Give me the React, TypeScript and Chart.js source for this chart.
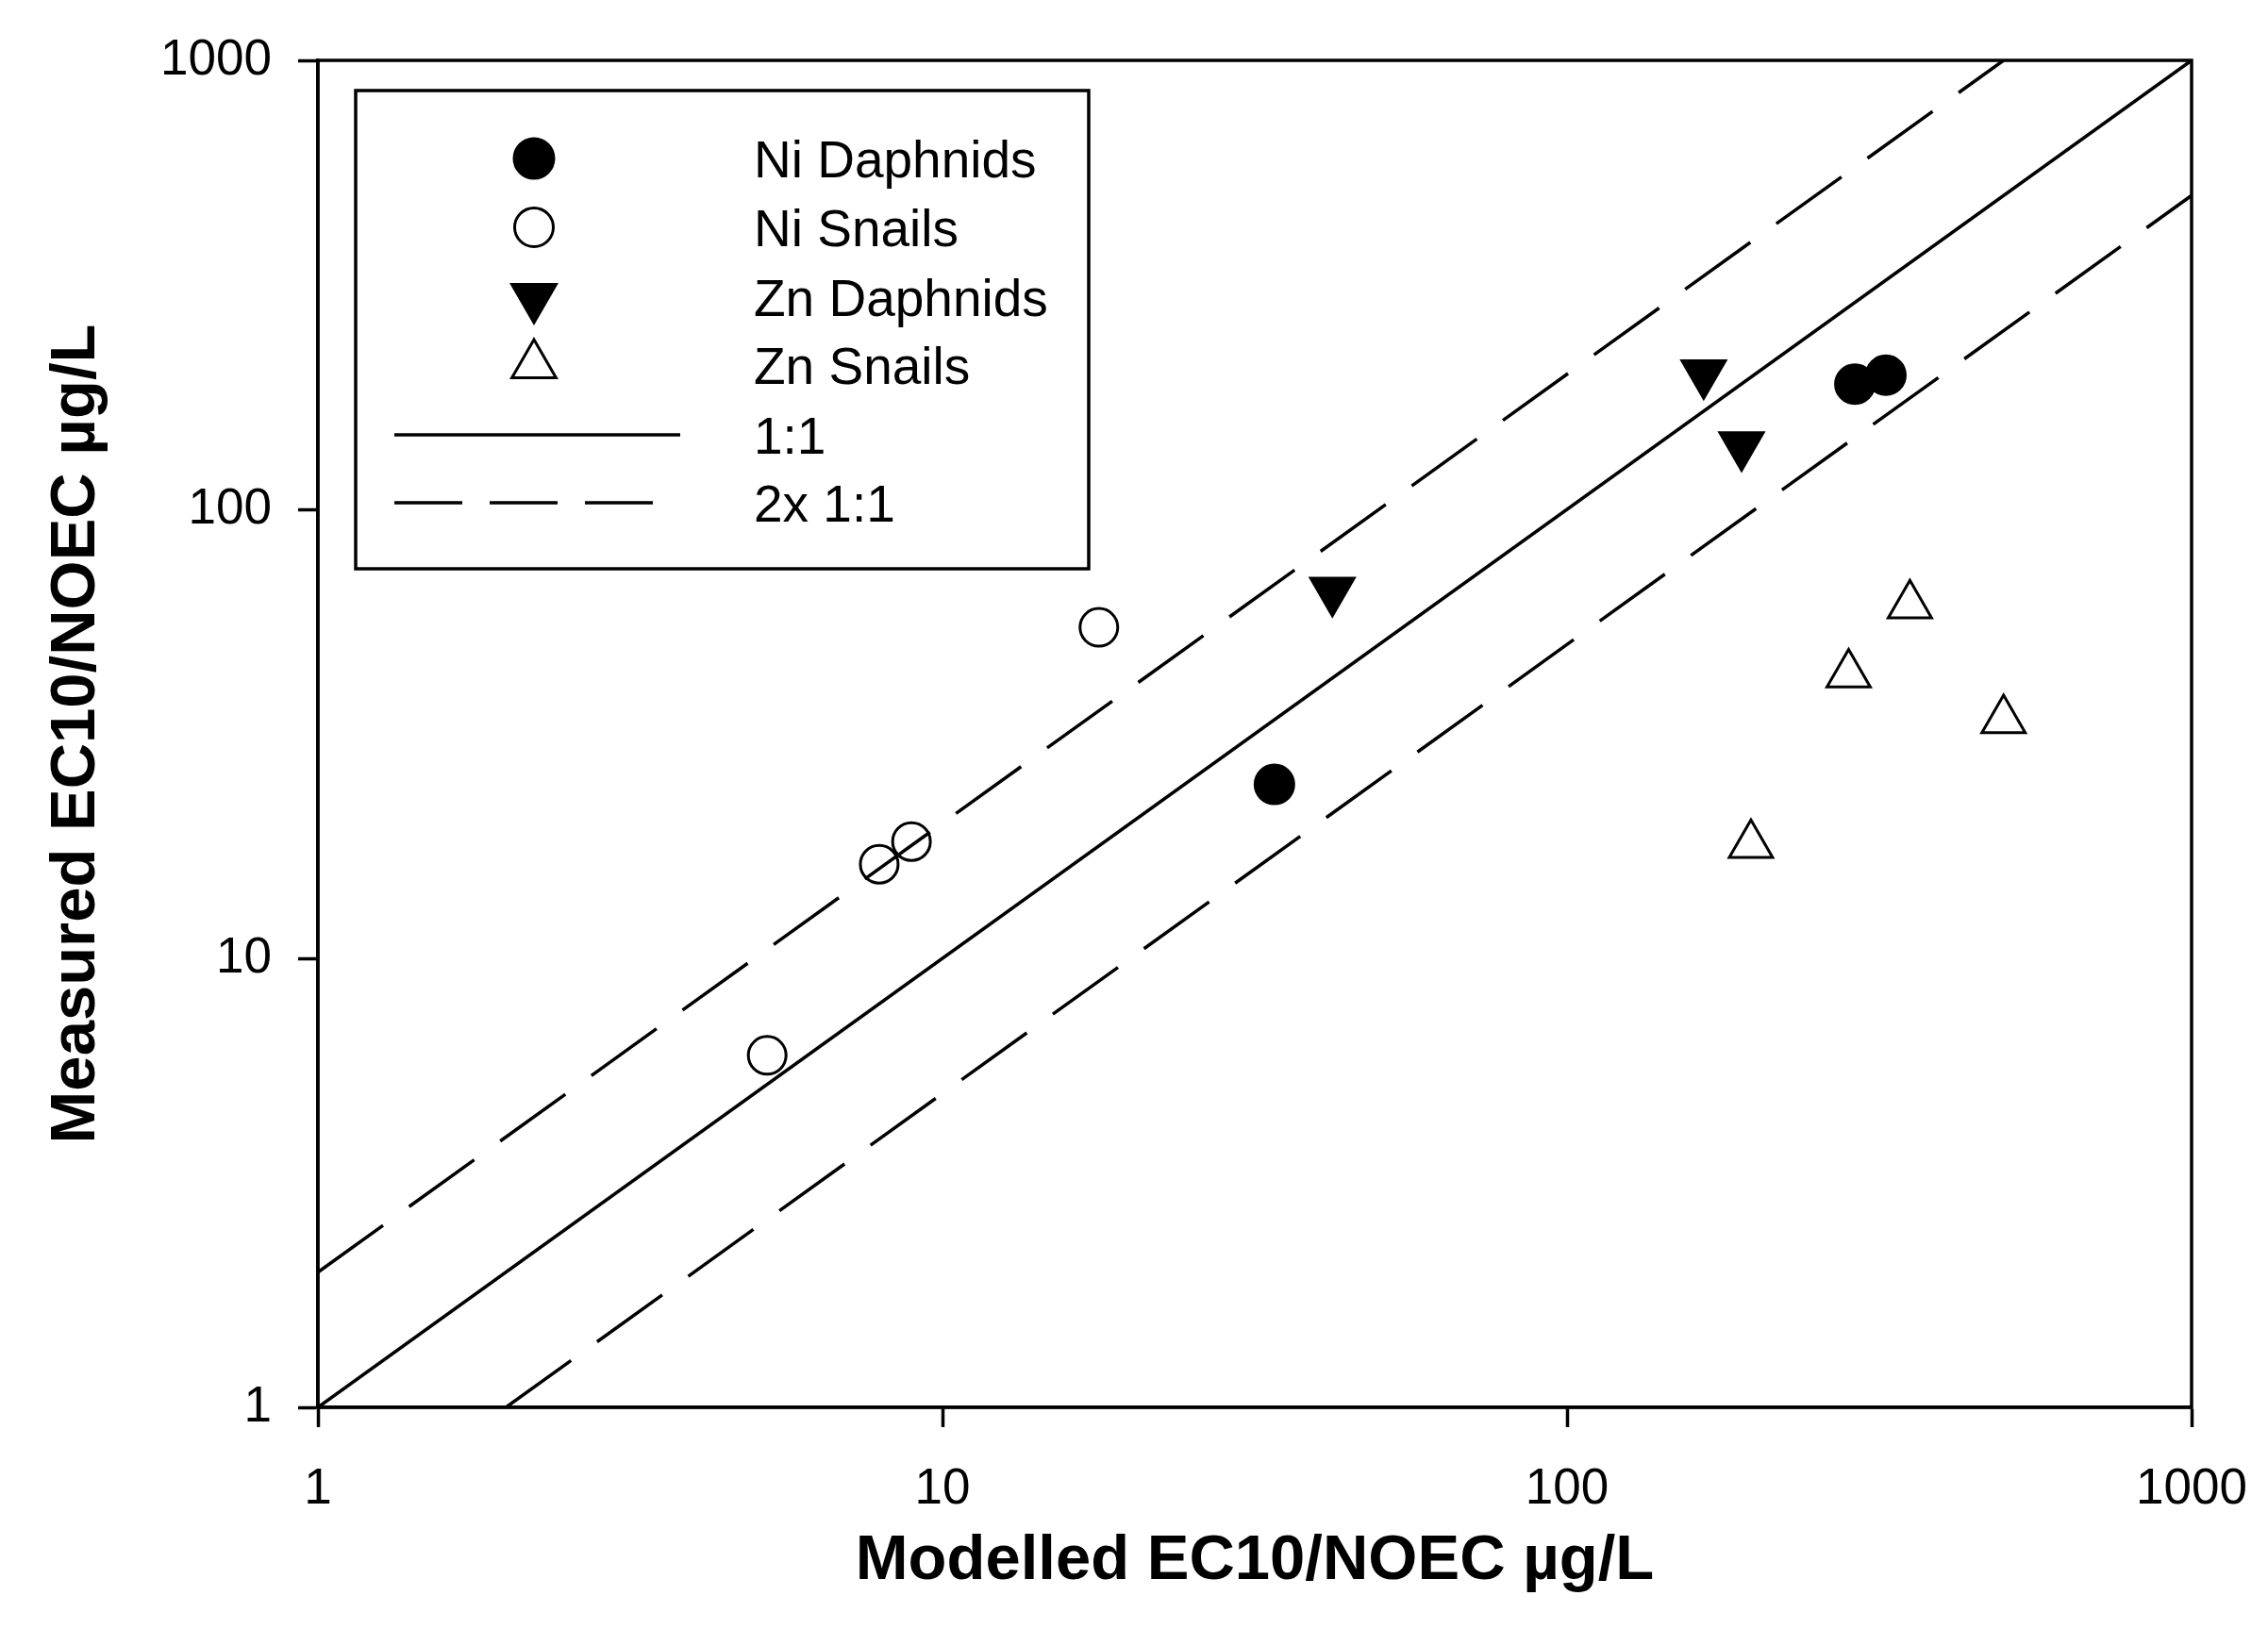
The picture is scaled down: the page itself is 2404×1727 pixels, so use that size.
import React, { useEffect, useRef } from 'react';
import { Chart, registerables } from 'chart.js';

Chart.register(...registerables);

// ---- data ----
const niDaphnidsX = [34.0, 289, 324];
const niDaphnidsY = [24.4, 190, 199];
const niSnailsX = [5.24, 7.92, 8.92, 17.8];
const niSnailsY = [6.08, 16.2, 18.2, 54.6];
const znDaphnidsX = [42.1, 165.5, 190.3];
const znDaphnidsY = [65.9, 200.9, 139.0];
const znSnailsX = [354, 282.4, 500, 197];
const znSnailsY = [61.1, 42.9, 33.9, 17.9];
const oneToOneX = [1, 1000];
const oneToOneY = [1, 1000];
const upperX = [1, 500];
const upperY = [2, 1000];
const lowerX = [2, 1000];
const lowerY = [1, 500];
const tickValues = [1, 10, 100, 1000];
const seriesLabels = ['Ni Daphnids', 'Ni Snails', 'Zn Daphnids', 'Zn Snails', '1:1', '2x 1:1'];
const xTitle = 'Modelled EC10/NOEC µg/L';
const yTitle = 'Measured EC10/NOEC µg/L';

const FONT = '"Liberation Sans", Arial, sans-serif';
const W = 2404;
const H = 1727;
const AREA = { left: 337, top: 64, right: 2323, bottom: 1492 };
const DASH = [85, 34];
const LW = 3.5;

const pts = (xs: number[], ys: number[]) => xs.map((x, i) => ({ x, y: ys[i] }));

function triPath(ctx: CanvasRenderingContext2D, x: number, y: number, r: number, rotDeg: number) {
  let rad = (rotDeg * Math.PI) / 180;
  ctx.beginPath();
  for (let k = 0; k < 3; k++) {
    const px = x + Math.sin(rad) * r;
    const py = y - Math.cos(rad) * r;
    if (k === 0) ctx.moveTo(px, py);
    else ctx.lineTo(px, py);
    rad += (2 * Math.PI) / 3;
  }
  ctx.closePath();
}

const overlayPlugin = {
  id: 'overlay',
  afterDraw(chart: any) {
    const ctx: CanvasRenderingContext2D = chart.ctx;
    const ca = chart.chartArea;
    ctx.save();
    // frame
    ctx.strokeStyle = '#000';
    ctx.lineWidth = 3.5;
    ctx.setLineDash([]);
    ctx.strokeRect(ca.left, ca.top, ca.right - ca.left, ca.bottom - ca.top);

    // axis titles
    ctx.fillStyle = '#000';
    ctx.font = `bold 67px ${FONT}`;
    ctx.textAlign = 'center';
    ctx.textBaseline = 'alphabetic';
    ctx.fillText(xTitle, (ca.left + ca.right) / 2, 1674);
    ctx.save();
    ctx.translate(100, (ca.top + ca.bottom) / 2);
    ctx.rotate(-Math.PI / 2);
    ctx.fillText(yTitle, 0, 0);
    ctx.restore();

    // legend box
    const lx0 = 377, ly0 = 96, lx1 = 1154, ly1 = 603;
    ctx.fillStyle = '#fff';
    ctx.fillRect(lx0, ly0, lx1 - lx0, ly1 - ly0);
    ctx.strokeStyle = '#000';
    ctx.lineWidth = 3.5;
    ctx.strokeRect(lx0, ly0, lx1 - lx0, ly1 - ly0);

    const rows = [168, 241, 315, 387, 461, 533];
    const sx = 566;
    const textX = 799;
    ctx.lineWidth = 3;
    // Ni Daphnids
    ctx.beginPath();
    ctx.arc(sx, rows[0], 21, 0, Math.PI * 2);
    ctx.fillStyle = '#000';
    ctx.fill();
    ctx.stroke();
    // Ni Snails
    ctx.beginPath();
    ctx.arc(sx, rows[1], 20.5, 0, Math.PI * 2);
    ctx.stroke();
    // Zn Daphnids
    triPath(ctx, sx, rows[2], 28, 180);
    ctx.fillStyle = '#000';
    ctx.fill();
    ctx.lineWidth = 2;
    ctx.stroke();
    // Zn Snails
    ctx.lineWidth = 3;
    triPath(ctx, sx, rows[3], 27, 0);
    ctx.stroke();
    // 1:1
    ctx.lineWidth = LW;
    ctx.beginPath();
    ctx.moveTo(418, rows[4]);
    ctx.lineTo(721, rows[4]);
    ctx.stroke();
    // 2x 1:1
    ctx.setLineDash([72, 29]);
    ctx.beginPath();
    ctx.moveTo(418, rows[5]);
    ctx.lineTo(693, rows[5]);
    ctx.stroke();
    ctx.setLineDash([]);

    ctx.fillStyle = '#000';
    ctx.font = `55px ${FONT}`;
    ctx.textAlign = 'left';
    ctx.textBaseline = 'alphabetic';
    seriesLabels.forEach((t, i) => {
      ctx.fillText(t, textX, rows[i] + 20);
    });
    ctx.restore();
  },
};

export default function App() {
  const ref = useRef<HTMLCanvasElement>(null);
  useEffect(() => {
    if (!ref.current) return;
    const tickFont = { family: FONT, size: 53 };
    const gridOpts = {
      display: true,
      drawOnChartArea: false,
      drawTicks: true,
      tickLength: 21,
      tickWidth: 3.5,
      tickColor: '#000',
      color: '#000',
    };
    const chart = new Chart(ref.current, {
      type: 'scatter',
      data: {
        datasets: [
          {
            label: seriesLabels[0],
            data: pts(niDaphnidsX, niDaphnidsY),
            pointStyle: 'circle',
            pointRadius: 20.5,
            pointBackgroundColor: '#000',
            pointBorderColor: '#000',
            pointBorderWidth: 3,
          },
          {
            label: seriesLabels[1],
            data: pts(niSnailsX, niSnailsY),
            pointStyle: 'circle',
            pointRadius: 20,
            pointBackgroundColor: 'rgba(0,0,0,0)',
            pointBorderColor: '#000',
            pointBorderWidth: 3,
          },
          {
            label: seriesLabels[2],
            data: pts(znDaphnidsX, znDaphnidsY),
            pointStyle: 'triangle',
            pointRotation: 180,
            pointRadius: 27.5,
            pointBackgroundColor: '#000',
            pointBorderColor: '#000',
            pointBorderWidth: 2,
          },
          {
            label: seriesLabels[3],
            data: pts(znSnailsX, znSnailsY),
            pointStyle: 'triangle',
            pointRadius: 26.5,
            pointBackgroundColor: 'rgba(0,0,0,0)',
            pointBorderColor: '#000',
            pointBorderWidth: 3,
          },
          {
            label: seriesLabels[4],
            data: pts(oneToOneX, oneToOneY),
            showLine: true,
            pointRadius: 0,
            borderColor: '#000',
            borderWidth: LW,
          },
          {
            label: seriesLabels[5],
            data: pts(upperX, upperY),
            showLine: true,
            pointRadius: 0,
            borderColor: '#000',
            borderWidth: LW,
            borderDash: DASH,
          },
          {
            label: seriesLabels[5] + ' lower',
            data: pts(lowerX, lowerY),
            showLine: true,
            pointRadius: 0,
            borderColor: '#000',
            borderWidth: LW,
            borderDash: DASH,
          },
        ] as any,
      },
      options: {
        animation: false,
        responsive: false,
        events: [],
        layout: { padding: { left: 0, top: AREA.top, right: W - AREA.right, bottom: 0 } },
        plugins: {
          legend: { display: false },
          title: { display: false },
          tooltip: { enabled: false },
        },
        scales: {
          x: {
            type: 'logarithmic',
            min: 1,
            max: 1000,
            position: 'bottom',
            border: { display: true, color: '#000', width: 3.5 },
            grid: gridOpts as any,
            afterBuildTicks: (scale: any) => {
              scale.ticks = tickValues.map((v) => ({ value: v }));
            },
            afterFit: (scale: any) => {
              scale.height = H - AREA.bottom;
              scale.paddingLeft = 0;
              scale.paddingRight = 0;
            },
            ticks: {
              autoSkip: false,
              maxRotation: 0,
              minRotation: 0,
              padding: 35,
              color: '#000',
              font: tickFont,
              callback: (v: any) => String(v),
            },
          },
          y: {
            type: 'logarithmic',
            min: 1,
            max: 1000,
            position: 'left',
            border: { display: true, color: '#000', width: 3.5 },
            grid: gridOpts as any,
            afterBuildTicks: (scale: any) => {
              scale.ticks = tickValues.map((v) => ({ value: v }));
            },
            afterFit: (scale: any) => {
              scale.width = AREA.left;
              scale.paddingTop = 0;
              scale.paddingBottom = 0;
            },
            ticks: {
              autoSkip: false,
              padding: 28,
              color: '#000',
              font: tickFont,
              callback: (v: any) => String(v),
            },
          },
        },
      } as any,
      plugins: [overlayPlugin],
    });
    return () => chart.destroy();
  }, []);
  return (
    <div style={{ position: 'fixed', left: 0, top: 0, width: W, height: H, background: '#fff' }}>
      <canvas ref={ref} width={W} height={H} style={{ display: 'block' }} />
    </div>
  );
}
